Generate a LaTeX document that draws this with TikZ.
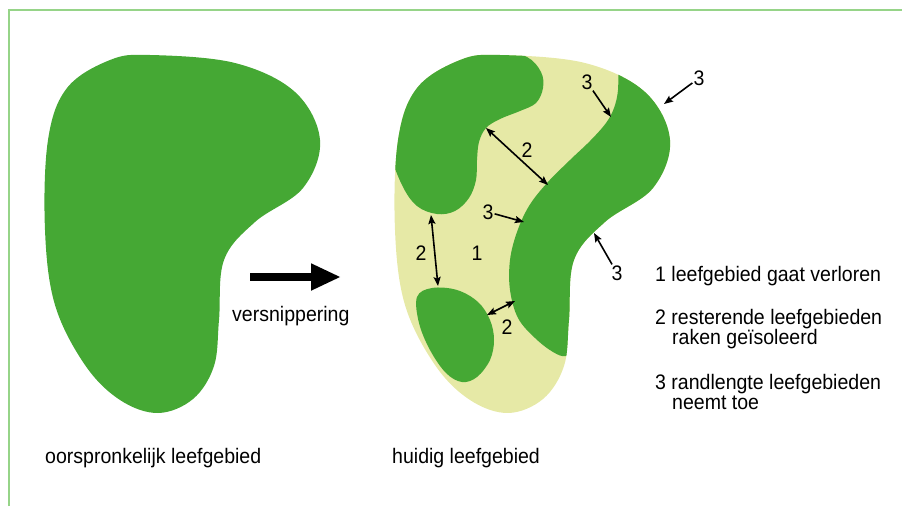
\documentclass[tikz,border=0pt]{standalone}
\usepackage{fontspec}
\setmainfont{Liberation Sans}[FakeStretch=0.93]
\usetikzlibrary{arrows.meta}
\definecolor{leaf}{RGB}{69,168,52}
\definecolor{pale}{RGB}{230,233,166}
\definecolor{framec}{RGB}{150,212,136}
\def\blob{plot[smooth cycle,tension=0.6] coordinates{(150,55) (235,63) (295,92) (320,140) (303,188) (255,222) (224,260) (219,320) (214,366) (193,399) (158,413) (120,400) (85,365) (55,305) (45,230) (48,140) (67,88) (110,60)}}
\tikzset{
  txt/.style={font=\fontsize{21}{24}\selectfont, inner sep=0pt, anchor=base west},
  lbl/.style={font=\fontsize{21}{24}\selectfont, inner sep=1pt},
  tip/.tip={Stealth[length=9pt,width=7pt,inset=1.5pt]},
  arr/.style={line width=1.6pt, -tip},
  darr/.style={line width=1.6pt, tip-tip}
}
\begin{document}
\begin{tikzpicture}[x=1pt,y=-1pt]
\useasboundingbox (0,0) rectangle (902,506);
% frame
\draw[framec, line width=2pt] (8.5,506) -- (8.5,10) -- (902,10);
% original habitat
\fill[leaf] \blob;
% current habitat
\begin{scope}[shift={(350,0)}]
  \fill[pale] \blob;
  \clip \blob;
  \fill[leaf, shift={(-350,0)}] plot[smooth cycle,tension=0.6] coordinates{(500,52) (527,57) (541,72) (543,88) (536,103) (520,111) (500,119) (486,128) (479,142) (477,160) (476,180) (469,198) (455,211) (437,214) (417,206) (402,185) (390,150) (392,115) (406,88) (428,68) (460,54)};
  \fill[leaf, shift={(-350,0)}] plot[smooth cycle,tension=0.6] coordinates{(417,297) (432,288) (457,290) (478,302) (490,320) (494,340) (490,360) (477,377) (462,382) (446,373) (430,350) (419,323)};
  \fill[leaf, shift={(-350,0)}] (720,30) -- (618,30) -- plot[smooth,tension=0.6] coordinates{(618,66) (618,90) (614,108) (606,123) (590,141) (570,160) (547,183) (529,206) (517,232) (510,260) (510,290) (518,318) (535,338) (553,352) (566,356) (576,346)} -- (620,360) -- (720,300) -- cycle;
\end{scope}
% big arrow
\coordinate (bigA) at (250,277);
\coordinate (bigB) at (341,277);
\draw[line width=8pt, -{Triangle[length=30pt,width=25pt]}] (bigA) -- (bigB);
% texts
\node[txt] (vs) at (232,321.5) {versnippering};
\node[txt] (orig) at (45,463) {oorspronkelijk leefgebied};
\node[txt] (cur) at (392,463) {huidig leefgebied};
\node[txt] (l1) at (655,281.5) {1 leefgebied gaat verloren};
\node[txt] (l2) at (655,324.5) {2 resterende leefgebieden};
\node[txt] (l2b) at (672,344.5) {raken geïsoleerd};
\node[txt] (l3) at (655,389) {3 randlengte leefgebieden};
\node[txt] (l3b) at (672,409) {neemt toe};
% labels
\node[lbl] (n1) at (477,253) {1};
\node[lbl] (n3a) at (587,82) {3};
\node[lbl] (n3b) at (699,78) {3};
\node[lbl] (n2a) at (527,150) {2};
\node[lbl] (n3c) at (488,212) {3};
\node[lbl] (n2b) at (421,253) {2};
\node[lbl] (n3d) at (617,273) {3};
\node[lbl] (n2c) at (507,327) {2};
\coordinate (t3a) at (611,117);
\coordinate (t3b) at (664,104);
\coordinate (t3c) at (524,222);
\coordinate (t3d) at (594,233);
\coordinate (a2a) at (486,128);
\coordinate (b2a) at (548,185);
\coordinate (a2b) at (431,215);
\coordinate (b2b) at (438,286);
\coordinate (a2c) at (487,315);
\coordinate (b2c) at (515,301);
\draw[arr] (n3a) -- (t3a);
\draw[arr] (n3b) -- (t3b);
\draw[arr] (n3c) -- (t3c);
\draw[arr] (n3d) -- (t3d);
\draw[darr] (a2a) -- (b2a);
\draw[darr] (a2b) -- (b2b);
\draw[darr] (a2c) -- (b2c);
\end{tikzpicture}
\end{document}
